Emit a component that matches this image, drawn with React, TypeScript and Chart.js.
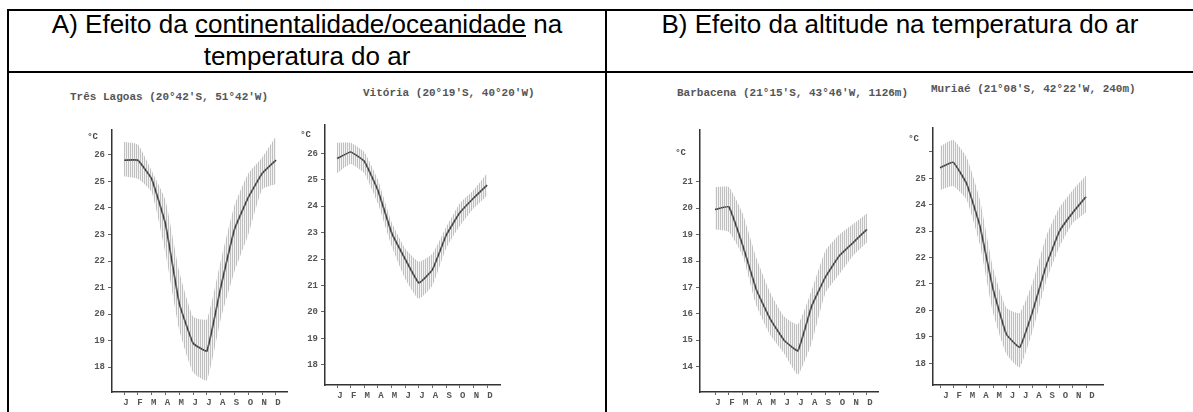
import React, { useEffect, useRef } from "react";
import { Chart, registerables } from "chart.js";
Chart.register(...registerables);

const months = ["J", "F", "M", "A", "M", "J", "J", "A", "S", "O", "N", "D"];

// Três Lagoas
const tlMean = [25.8, 25.8, 25.1, 23.4, 20.4, 18.9, 18.6, 21.0, 23.2, 24.4, 25.3, 25.8];
const tlHigh = [26.5, 26.4, 25.4, 24.3, 21.6, 19.9, 19.8, 22.0, 24.1, 25.3, 25.9, 26.7];
const tlLow = [25.2, 25.1, 24.6, 22.3, 19.4, 17.8, 17.5, 19.8, 21.6, 23.0, 24.7, 24.9];
const tlTicks = [18, 19, 20, 21, 22, 23, 24, 25, 26];

// Vitória
const viMean = [25.8, 26.05, 25.7, 24.6, 23.0, 22.0, 21.1, 21.6, 22.9, 23.75, 24.3, 24.8];
const viHigh = [26.4, 26.4, 26.05, 25.0, 23.4, 22.4, 21.9, 22.2, 23.2, 24.1, 24.6, 25.25];
const viLow = [25.25, 25.6, 25.25, 24.1, 22.5, 21.25, 20.5, 21.0, 22.4, 23.25, 23.9, 24.4];
const viTicks = [18, 19, 20, 21, 22, 23, 24, 25, 26];

// Barbacena
const baMean = [19.95, 20.05, 18.6, 16.9, 15.8, 15.0, 14.6, 16.3, 17.4, 18.2, 18.7, 19.2];
const baHigh = [20.8, 20.8, 19.8, 18.1, 16.8, 15.9, 15.6, 16.9, 18.4, 19.0, 19.4, 19.8];
const baLow = [19.2, 19.1, 18.2, 16.3, 15.2, 14.5, 13.7, 14.9, 16.8, 17.5, 18.2, 18.7];
const baTicks = [14, 15, 16, 17, 18, 19, 20, 21];

// Muriaé
const muMean = [25.4, 25.6, 24.8, 23.2, 20.8, 19.1, 18.6, 20.0, 21.7, 23.0, 23.7, 24.3];
const muHigh = [26.2, 26.45, 25.8, 24.2, 21.6, 20.1, 19.9, 21.1, 22.8, 23.9, 24.55, 25.1];
const muLow = [24.55, 24.7, 24.2, 22.5, 19.9, 18.35, 17.85, 19.25, 21.1, 22.4, 23.3, 23.7];
const muTicks = [18, 19, 20, 21, 22, 23, 24, 25, 26];

type Spec = {
  title: string;
  titleX: number;
  titleY: number;
  L: number;
  T: number;
  R: number;
  B: number;
  xMin: number;
  xMax: number;
  yMin: number;
  yMax: number;
  ticks: number[];
  hideTick?: number;
  cVal: number;
  mean: number[];
  high: number[];
  low: number[];
  labelOffset: number;
};

const specs: Spec[] = [
  {
    title: "Três Lagoas (20°42'S, 51°42'W)",
    titleX: 70, titleY: 97,
    L: 112, T: 130, R: 287, B: 392,
    xMin: -0.87, xMax: 11.8, yMin: 17.06, yMax: 26.94,
    ticks: tlTicks, cVal: 26.7,
    mean: tlMean, high: tlHigh, low: tlLow, labelOffset: 2,
  },
  {
    title: "Vitória (20°19'S, 40°20'W)",
    titleX: 363, titleY: 93,
    L: 325, T: 125, R: 500, B: 385,
    xMin: -0.88, xMax: 11.95, yMin: 17.24, yMax: 27.07,
    ticks: viTicks, cVal: 26.7,
    mean: viMean, high: viHigh, low: viLow, labelOffset: 3,
  },
  {
    title: "Barbacena (21°15'S, 43°46'W, 1126m)",
    titleX: 677, titleY: 93,
    L: 700, T: 130, R: 878, B: 392,
    xMin: -1.09, xMax: 11.8, yMin: 13.04, yMax: 22.96,
    ticks: baTicks, cVal: 22.1,
    mean: baMean, high: baHigh, low: baLow, labelOffset: 3,
  },
  {
    title: "Muriaé (21°08'S, 42°22'W, 240m)",
    titleX: 931, titleY: 89,
    L: 933, T: 128, R: 1103, B: 385,
    xMin: -0.53, xMax: 12.28, yMin: 17.18, yMax: 26.9,
    ticks: muTicks, hideTick: 26, cVal: 26.5,
    mean: muMean, high: muHigh, low: muLow, labelOffset: 6,
  },
];

const tickFont = { family: "'Liberation Mono', 'DejaVu Sans Mono', monospace", size: 9, weight: "bold" as const };

function makePattern(): CanvasPattern | string {
  const c = document.createElement("canvas");
  c.width = 2;
  c.height = 2;
  const g = c.getContext("2d");
  if (!g) return "#ccc";
  g.fillStyle = "rgba(150,150,150,0.6)";
  g.fillRect(0, 0, 1, 2);
  g.fillStyle = "rgba(200,200,200,0.2)";
  g.fillRect(1, 0, 1, 2);
  const p = g.createPattern(c, "repeat");
  return p || "#ccc";
}

function MiniChart({ s }: { s: Spec }) {
  const ref = useRef<HTMLCanvasElement | null>(null);
  const cx = s.L - 50;
  const cy = s.T - 20;
  const cw = s.R + 12 - cx;
  const ch = s.B + 20 - cy;
  useEffect(() => {
    if (!ref.current) return;
    const pattern = makePattern();
    const pts = (arr: number[]) => arr.map((v, i) => ({ x: i, y: v }));
    const cPlugin = {
      id: "celsius",
      afterDraw(chart: any) {
        const ctx = chart.ctx;
        const y = chart.scales.y.getPixelForValue(s.cVal);
        ctx.save();
        ctx.fillStyle = "#444";
        ctx.font = "bold 9px 'Liberation Mono', monospace";
        ctx.textAlign = "right";
        ctx.textBaseline = "middle";
        ctx.fillText("°C", chart.chartArea.left - 14, y);
        ctx.restore();
      },
    };
    const chart = new Chart(ref.current, {
      type: "line",
      data: {
        datasets: [
          {
            data: pts(s.high),
            borderWidth: 0,
            pointRadius: 0,
            fill: "+1",
            backgroundColor: pattern as any,
            tension: 0.15,
          },
          {
            data: pts(s.low),
            borderWidth: 0,
            pointRadius: 0,
            fill: false,
            tension: 0.15,
          },
          {
            data: pts(s.mean),
            borderColor: "#1a1a1a",
            borderWidth: 1.7,
            pointRadius: 0,
            fill: false,
            tension: 0.1,
          },
        ],
      },
      options: {
        animation: false,
        responsive: false,
        maintainAspectRatio: false,
        layout: { padding: { left: 0, top: s.T - cy, right: cx + cw - s.R, bottom: 0 } },
        plugins: { legend: { display: false }, tooltip: { enabled: false }, title: { display: false } },
        scales: {
          x: {
            type: "linear",
            min: s.xMin,
            max: s.xMax,
            afterBuildTicks: (sc: any) => {
              sc.ticks = months.map((_, i) => ({ value: i }));
            },
            afterFit: (sc: any) => {
              sc.height = cy + ch - s.B;
            },
            ticks: {
              callback: (v: any) => months[Math.round(Number(v))] ?? "",
              font: tickFont,
              color: "#555",
              padding: 2,
              labelOffset: s.labelOffset,
              autoSkip: false,
              maxRotation: 0,
            },
            grid: { display: true, drawOnChartArea: false, drawTicks: true, tickLength: 3, color: "#666", lineWidth: 1 },
            border: { display: true, color: "#333", width: 1.5 },
          },
          y: {
            min: s.yMin,
            max: s.yMax,
            afterBuildTicks: (sc: any) => {
              sc.ticks = s.ticks.map((v) => ({ value: v }));
            },
            afterFit: (sc: any) => {
              sc.width = s.L - cx;
            },
            ticks: {
              callback: (v: any) => (v === s.hideTick ? "" : String(v)),
              font: tickFont,
              color: "#555",
              padding: 3,
            },
            grid: { display: true, drawOnChartArea: false, drawTicks: true, tickLength: 4, color: "#666", lineWidth: 1 },
            border: { display: true, color: "#333", width: 1.5 },
          },
        },
      } as any,
      plugins: [cPlugin],
    });
    return () => chart.destroy();
  }, []);
  return (
    <>
      <div
        style={{
          position: "absolute",
          left: s.titleX,
          top: s.titleY - 7,
          fontFamily: "'Liberation Mono', monospace",
          fontWeight: "bold",
          fontSize: 11,
          lineHeight: "14px",
          color: "#555",
          whiteSpace: "nowrap",
        }}
      >
        {s.title}
      </div>
      <canvas
        ref={ref}
        width={cw}
        height={ch}
        style={{ position: "absolute", left: cx, top: cy, width: cw, height: ch }}
      />
    </>
  );
}

export default function App() {
  useEffect(() => {
    document.body.style.margin = "0";
  }, []);
  const line = (l: number, t: number, w: number, h: number) => (
    <div style={{ position: "absolute", left: l, top: t, width: w, height: h, background: "#000" }} />
  );
  const hdr: React.CSSProperties = {
    position: "absolute",
    fontFamily: "'Liberation Sans', Arial, sans-serif",
    fontSize: 26,
    lineHeight: "26px",
    color: "#000",
    textAlign: "center",
    whiteSpace: "nowrap",
  };
  return (
    <div style={{ position: "relative", width: 1193, height: 412, background: "#fff", overflow: "hidden" }}>
      {line(7, 9, 1186, 2)}
      {line(7, 71, 1186, 2)}
      {line(7, 9, 2, 403)}
      {line(605, 9, 2, 403)}
      <div style={{ ...hdr, left: 9, width: 596, top: 11 }}>
        A) Efeito da <span style={{ textDecoration: "underline" }}>continentalidade/oceanidade</span> na
      </div>
      <div style={{ ...hdr, left: 9, width: 596, top: 43 }}>temperatura do ar</div>
      <div style={{ ...hdr, left: 607, width: 586, top: 11 }}>B) Efeito da altitude na temperatura do ar</div>
      {specs.map((s, i) => (
        <MiniChart key={i} s={s} />
      ))}
    </div>
  );
}
